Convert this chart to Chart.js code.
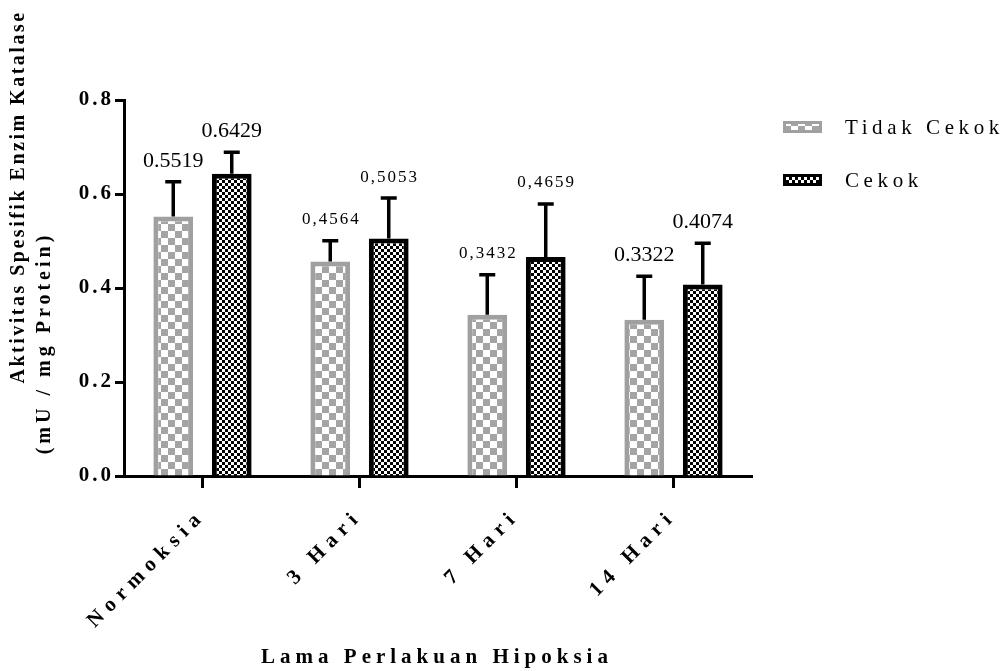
<!DOCTYPE html>
<html>
<head>
<meta charset="utf-8">
<script src="https://cdn.jsdelivr.net/npm/chart.js@4.4.0/dist/chart.umd.min.js"></script>
<style>
  html, body { margin: 0; padding: 0; background: #fff; }
</style>
</head>
<body>
<canvas id="chart" width="1005" height="671"></canvas>
<script>
// data
const categories = ['Normoksia', '3 Hari', '7 Hari', '14 Hari'];
const seriesNames = ['Tidak Cekok', 'Cekok'];
const tidakCekok = [0.5519, 0.4564, 0.3432, 0.3322];
const cekok = [0.6429, 0.5053, 0.4659, 0.4074];
// error bars (upper half only)
const tidakCekokErr = [0.074, 0.044, 0.085, 0.093];
const cekokErr = [0.046, 0.086, 0.113, 0.088];
// value labels as printed (some with comma, some with dot)
const tidakCekokLabels = ['0.5519', '0,4564', '0,3432', '0.3322'];
const cekokLabels = ['0.6429', '0,5053', '0,4659', '0.4074'];
const yTicks = [0, 0.2, 0.4, 0.6, 0.8];

const SERIF = '"Liberation Serif", "Times New Roman", serif';

// checkerboard fill for the bars
function checker(size, dark, light) {
    const c = document.createElement('canvas');
    c.width = size * 2;
    c.height = size * 2;
    const g = c.getContext('2d');
    g.fillStyle = light;
    g.fillRect(0, 0, size * 2, size * 2);
    g.fillStyle = dark;
    g.fillRect(0, 0, size, size);
    g.fillRect(size, size, size, size);
    return g.createPattern(c, 'repeat');
}

const grayFill = checker(7, '#a4a4a4', '#ffffff');
const blackFill = checker(3, '#000000', '#ffffff');
const fills = [grayFill, blackFill];
const borders = ['#a0a0a0', '#000000'];

// wrap the scale label drawing so ticks get letter spacing
function spaced(scale, spacing) {
    if (scale._spacedWrap) return;
    const orig = scale.drawLabels.bind(scale);
    scale.drawLabels = function (area) {
        const ctx = this.ctx;
        ctx.save();
        ctx.letterSpacing = spacing;
        orig(area);
        ctx.restore();
    };
    scale._spacedWrap = true;
}

const extras = {
    id: 'extras',
    afterDatasetsDraw(chart) {
        const ctx = chart.ctx;
        const y = chart.scales.y;
        const groups = [
            [tidakCekok, tidakCekokErr, tidakCekokLabels],
            [cekok, cekokErr, cekokLabels],
        ];
        groups.forEach(([vals, errs, labels], di) => {
            const meta = chart.getDatasetMeta(di);
            meta.data.forEach((bar, i) => {
                const base = y.getPixelForValue(vals[i]);
                const top = y.getPixelForValue(vals[i] + errs[i]);
                ctx.save();
                ctx.strokeStyle = '#000';
                ctx.lineWidth = 3.5;
                ctx.beginPath();
                ctx.moveTo(bar.x, base);
                ctx.lineTo(bar.x, top);
                ctx.moveTo(bar.x - 8, top);
                ctx.lineTo(bar.x + 8, top);
                ctx.stroke();

                const comma = labels[i].includes(',');
                ctx.font = (comma ? '17px ' : '22px ') + SERIF;
                ctx.letterSpacing = comma ? '2px' : '0px';
                ctx.fillStyle = '#000';
                ctx.textAlign = 'center';
                ctx.textBaseline = 'middle';
                ctx.fillText(labels[i], bar.x + (comma ? 1 : 0), top - 21);
                ctx.restore();
            });
        });
    },
    afterDraw(chart) {
        const ctx = chart.ctx;
        ctx.save();
        ctx.fillStyle = '#000';
        ctx.textBaseline = 'middle';

        // y axis title, two lines
        ctx.font = 'bold 20px ' + SERIF;
        ctx.letterSpacing = '2.5px';
        ctx.textAlign = 'center';
        ctx.save();
        ctx.translate(19, 197);
        ctx.rotate(-Math.PI / 2);
        ctx.fillText('Aktivitas Spesifik Enzim Katalase', 0, 0);
        ctx.restore();
        ctx.save();
        ctx.translate(45, 343);
        ctx.rotate(-Math.PI / 2);
        ctx.letterSpacing = '4px';
        ctx.fillText('(mU / mg Protein)', 0, 0);
        ctx.restore();

        // x axis title
        ctx.font = 'bold 21px ' + SERIF;
        ctx.letterSpacing = '5px';
        ctx.fillText('Lama Perlakuan Hipoksia', 437, 658);

        // legend
        ctx.font = '21px ' + SERIF;
        ctx.letterSpacing = '4.6px';
        ctx.textAlign = 'left';
        seriesNames.forEach((name, i) => {
            const by = 121 + i * 53;
            ctx.fillStyle = fills[i];
            ctx.fillRect(783, by, 39, 12);
            ctx.strokeStyle = borders[i];
            ctx.lineWidth = 3;
            ctx.strokeRect(784.5, by + 1.5, 36, 9);
            ctx.fillStyle = '#000';
            ctx.fillText(name, 845, by + 7);
        });
        ctx.restore();
    },
};

new Chart(document.getElementById('chart'), {
    type: 'bar',
    data: {
        labels: categories,
        datasets: [
            {
                label: seriesNames[0],
                data: tidakCekok,
                backgroundColor: fills[0],
                borderColor: borders[0],
                borderWidth: 5,
            },
            {
                label: seriesNames[1],
                data: cekok,
                backgroundColor: fills[1],
                borderColor: borders[1],
                borderWidth: 5,
            },
        ],
    },
    options: {
        responsive: false,
        animation: false,
        devicePixelRatio: 1,
        layout: { padding: { top: 100, right: 253, left: 0, bottom: 0 } },
        datasets: { bar: { categoryPercentage: 0.745, barPercentage: 0.68 } },
        plugins: {
            legend: { display: false },
            tooltip: { enabled: false },
        },
        scales: {
            x: {
                offset: true,
                grid: {
                    offset: false,
                    drawOnChartArea: false,
                    drawTicks: true,
                    tickLength: 12,
                    tickWidth: 3,
                    tickColor: '#000',
                },
                border: { color: '#000', width: 3 },
                ticks: {
                    autoSkip: false,
                    minRotation: 45,
                    maxRotation: 45,
                    padding: 16,
                    color: '#000',
                    font: { family: SERIF, size: 21, weight: 'bold' },
                },
                afterFit(scale) {
                    scale.height = 195;
                    spaced(scale, '6.5px');
                },
            },
            y: {
                min: 0,
                max: 0.8,
                grid: {
                    drawOnChartArea: false,
                    drawTicks: true,
                    tickLength: 9,
                    tickWidth: 3,
                    tickColor: '#000',
                },
                border: { color: '#000', width: 3 },
                afterBuildTicks(scale) {
                    scale.ticks = yTicks.map(v => ({ value: v }));
                },
                ticks: {
                    padding: 1,
                    color: '#000',
                    font: { family: SERIF, size: 21, weight: 'bold' },
                    callback: v => Number(v).toFixed(1),
                },
                afterFit(scale) {
                    scale.width = 124;
                    spaced(scale, '3px');
                },
            },
        },
    },
    plugins: [extras],
});
</script>
</body>
</html>
